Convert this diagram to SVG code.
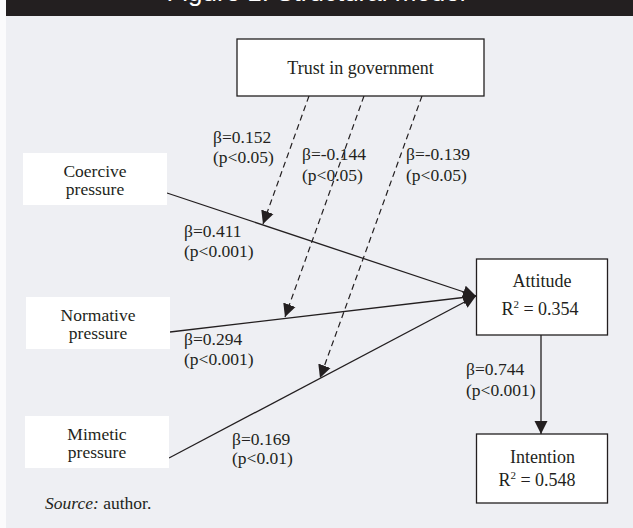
<svg xmlns="http://www.w3.org/2000/svg" width="633" height="528" viewBox="0 0 633 528">
<defs>
<style>
.bg{fill:#eeeff3}
.box{fill:#ffffff;stroke:#231f20;stroke-width:1.3}
.wbox{fill:#ffffff}
.t{font-family:"Liberation Serif","Times New Roman",serif;font-size:18px;fill:#231f20}
.n{font-size:17.5px}
.c{text-anchor:middle}
.lb{font-family:"Liberation Serif","Times New Roman",serif;font-size:17.5px;fill:#231f20}
.ln{stroke:#231f20;stroke-width:1.3;fill:none}
.ds{stroke:#231f20;stroke-width:1.2;fill:none;stroke-dasharray:6 4}
</style>
<marker id="ah" markerUnits="userSpaceOnUse" markerWidth="14" markerHeight="14" viewBox="0 0 14 14" refX="13" refY="7" orient="auto">
<path d="M0,0.5 L13,7 L0,13.5 z" fill="#231f20"/>
</marker>
</defs>
<rect x="0" y="0" width="633" height="528" fill="#fbfbfc"/>
<rect class="bg" x="6" y="0" width="627" height="528"/>
<rect x="6" y="0" width="627" height="16" fill="#231f20"/>
<text x="316" y="1" text-anchor="middle" font-family="'Liberation Sans',Arial,sans-serif" font-size="26" fill="#ffffff">Figure 1: Structural model</text>

<g id="connectors">
<line class="ln" x1="167" y1="193" x2="476" y2="296" marker-end="url(#ah)"/>
<line class="ln" x1="170" y1="332" x2="476" y2="296" marker-end="url(#ah)"/>
<line class="ln" x1="169" y1="458" x2="476" y2="296" marker-end="url(#ah)"/>
<line class="ds" x1="309" y1="96" x2="263" y2="224" marker-end="url(#ah)"/>
<line class="ds" x1="364" y1="96" x2="285" y2="317" marker-end="url(#ah)"/>
<line class="ds" x1="422" y1="96" x2="320" y2="378" marker-end="url(#ah)"/>
<line class="ln" x1="541" y1="335" x2="541" y2="434" marker-end="url(#ah)"/>
</g>

<g id="trust">
<rect class="box" x="237" y="39" width="247" height="57"/>
<text class="t c" x="360.5" y="74" font-size="18.5">Trust in government</text>
</g>
<g id="coercive">
<rect class="wbox" x="23" y="153" width="144" height="52"/>
<text class="t n c" x="95" y="176.5">Coercive</text>
<text class="t n c" x="95" y="194.5">pressure</text>
</g>
<g id="normative">
<rect class="wbox" x="26" y="297" width="144" height="52"/>
<text class="t n c" x="98" y="320.5">Normative</text>
<text class="t n c" x="98" y="338.5">pressure</text>
</g>
<g id="mimetic">
<rect class="wbox" x="25" y="416" width="144" height="52"/>
<text class="t n c" x="97" y="439.5">Mimetic</text>
<text class="t n c" x="97" y="457.5">pressure</text>
</g>
<g id="attitude">
<rect class="box" x="476.5" y="259" width="131" height="76"/>
<text class="t c" x="542" y="287">Attitude</text>
<text class="t c" x="540" y="315">R<tspan font-size="11" dy="-7">2</tspan><tspan dy="7"> = 0.354</tspan></text>
</g>
<g id="intention">
<rect class="box" x="476.5" y="434" width="131" height="69"/>
<text class="t c" x="542.5" y="463">Intention</text>
<text class="t c" x="537" y="486">R<tspan font-size="11" dy="-7">2</tspan><tspan dy="7"> = 0.548</tspan></text>
</g>

<g id="labels">
<text class="lb" x="213" y="143">β=0.152</text>
<text class="lb" x="213" y="163">(p&lt;0.05)</text>
<text class="lb" x="302" y="160">β=-0.144</text>
<text class="lb" x="302" y="181">(p&lt;0.05)</text>
<text class="lb" x="406" y="160">β=-0.139</text>
<text class="lb" x="406" y="181">(p&lt;0.05)</text>
<text class="lb" x="184" y="237">β=0.411</text>
<text class="lb" x="184" y="257">(p&lt;0.001)</text>
<text class="lb" x="184" y="345">β=0.294</text>
<text class="lb" x="184" y="365">(p&lt;0.001)</text>
<text class="lb" x="232" y="445">β=0.169</text>
<text class="lb" x="232" y="464">(p&lt;0.01)</text>
<text class="lb" x="466" y="375">β=0.744</text>
<text class="lb" x="466" y="396">(p&lt;0.001)</text>
</g>
<text class="lb" x="45" y="509"><tspan font-style="italic">Source:</tspan> author.</text>
</svg>
